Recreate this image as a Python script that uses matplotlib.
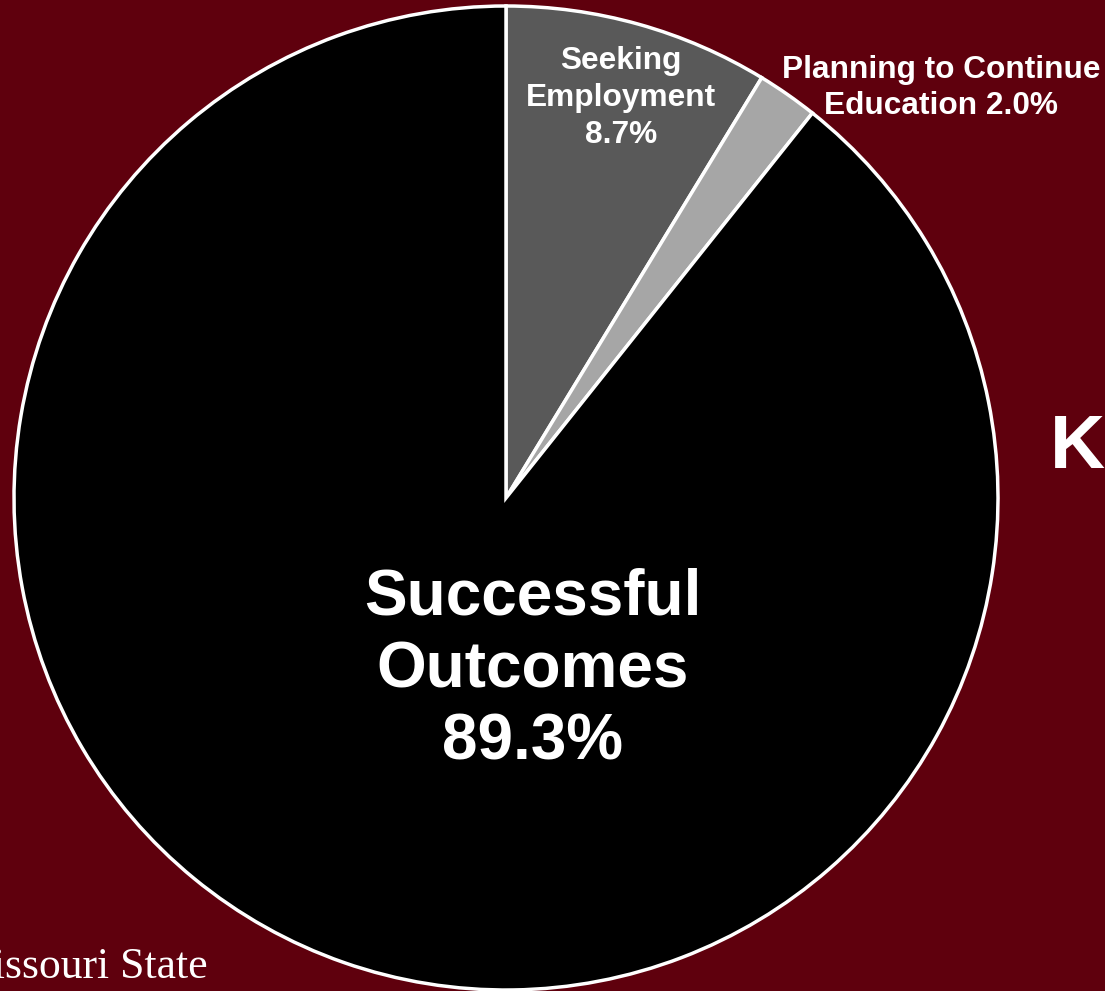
import matplotlib.pyplot as plt

labels = ['Seeking\nEmployment\n8.7%', 'Planning to Continue\nEducation 2.0%', 'Successful\nOutcomes\n89.3%']
shares = [8.7, 2.0, 89.3]
colors = ['#595959', '#A6A6A6', '#000000']

bg = '#5F000D'
W, H = 1105, 991

fig = plt.figure(figsize=(W / 100, H / 100), dpi=100, facecolor=bg)
ax = fig.add_axes([0, 0, 1, 1])
ax.set_facecolor(bg)

cx, cy, r = 506, H - 498, 492
wedges, _ = ax.pie(shares, colors=colors, startangle=90, counterclock=False,
                   center=(cx, cy), radius=r, frame=True,
                   wedgeprops=dict(edgecolor='white', linewidth=2.5))
ax.set_xlim(0, W)
ax.set_ylim(0, H)
ax.axis('off')

font = 'Liberation Sans'
ax.text(621, H - 98, labels[0], ha='center', va='center', color='white',
        fontsize=22.8, fontweight='bold', family=font, linespacing=1.3)
ax.text(941, H - 88, labels[1], ha='center', va='center', color='white',
        fontsize=22.8, fontweight='bold', family=font, linespacing=1.25)
ax.text(533, H - 670, labels[2], ha='center', va='center', color='white',
        fontsize=46, fontweight='bold', family=font, linespacing=1.26)

# partial slide elements around the chart
ax.text(1050, H - 449, 'K', ha='left', va='center', color='white',
        fontsize=55, fontweight='bold', family=font)
ax.text(208, H - 978, 'Missouri State', ha='right', va='baseline', color='white',
        fontsize=31.5, family='Liberation Serif')

fig.savefig('out.png', dpi=100, facecolor=bg)
